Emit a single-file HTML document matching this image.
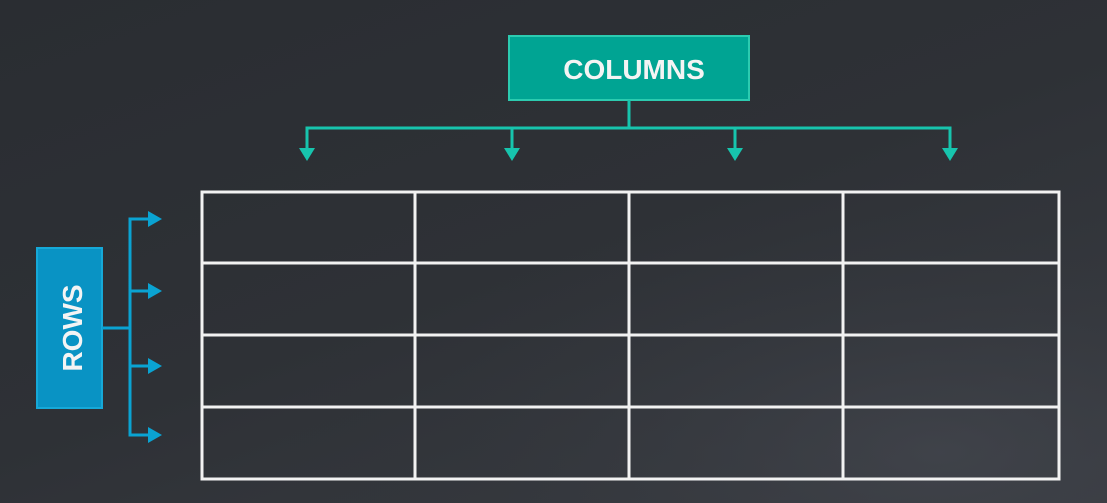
<!DOCTYPE html>
<html><head><meta charset="utf-8"><style>
html,body{margin:0;padding:0;width:1107px;height:503px;overflow:hidden}
body{background:linear-gradient(160deg,#2a2d32 0%,#2e3136 50%,#3a3d43 100%)}
</style></head><body>
<svg width="1107" height="503" viewBox="0 0 1107 503" xmlns="http://www.w3.org/2000/svg">
<defs>
<radialGradient id="g" cx="0.85" cy="0.9" r="0.6"><stop offset="0" stop-color="#454850" stop-opacity="0.6"/><stop offset="1" stop-color="#2c2f34" stop-opacity="0"/></radialGradient>
</defs>
<rect width="1107" height="503" fill="url(#g)"/>
<!-- COLUMNS -->
<rect x="509" y="36" width="240" height="64" fill="#00a493" stroke="#2ccbb0" stroke-width="2"/>
<text x="634" y="79" text-anchor="middle" font-family="'Liberation Sans',sans-serif" font-size="28" font-weight="bold" fill="#f4f4f4">COLUMNS</text>
<g stroke="#17c4ad" stroke-width="3" fill="none">
<line x1="629" y1="100" x2="629" y2="128"/>
<polyline points="307,150 307,128 950,128 950,150"/>
<line x1="512" y1="128" x2="512" y2="150"/>
<line x1="735" y1="128" x2="735" y2="150"/>
</g>
<g fill="#17c4ad">
<polygon points="299,148 315,148 307,161"/>
<polygon points="504,148 520,148 512,161"/>
<polygon points="727,148 743,148 735,161"/>
<polygon points="942,148 958,148 950,161"/>
</g>
<!-- ROWS -->
<rect x="37" y="248" width="65" height="160" fill="#0993c4" stroke="#16a9d8" stroke-width="2"/>
<text transform="translate(82,328) rotate(-90)" text-anchor="middle" font-family="'Liberation Sans',sans-serif" font-size="28" font-weight="bold" fill="#f4f4f4">ROWS</text>
<g stroke="#0aa3d2" stroke-width="3" fill="none">
<line x1="102" y1="328" x2="130" y2="328"/>
<polyline points="150,219 130,219 130,435 150,435"/>
<line x1="130" y1="291" x2="150" y2="291"/>
<line x1="130" y1="366" x2="150" y2="366"/>
</g>
<g fill="#0aa3d2">
<polygon points="148,211 162,219 148,227"/>
<polygon points="148,283 162,291 148,299"/>
<polygon points="148,358 162,366 148,374"/>
<polygon points="148,427 162,435 148,443"/>
</g>
<!-- table -->
<g stroke="#f2f2f2" stroke-width="3" fill="none">
<rect x="202" y="192" width="857" height="287"/>
<line x1="202" y1="263" x2="1059" y2="263"/>
<line x1="202" y1="335" x2="1059" y2="335"/>
<line x1="202" y1="407" x2="1059" y2="407"/>
<line x1="415" y1="192" x2="415" y2="479"/>
<line x1="629" y1="192" x2="629" y2="479"/>
<line x1="843" y1="192" x2="843" y2="479"/>
</g>
</svg>
</body></html>
